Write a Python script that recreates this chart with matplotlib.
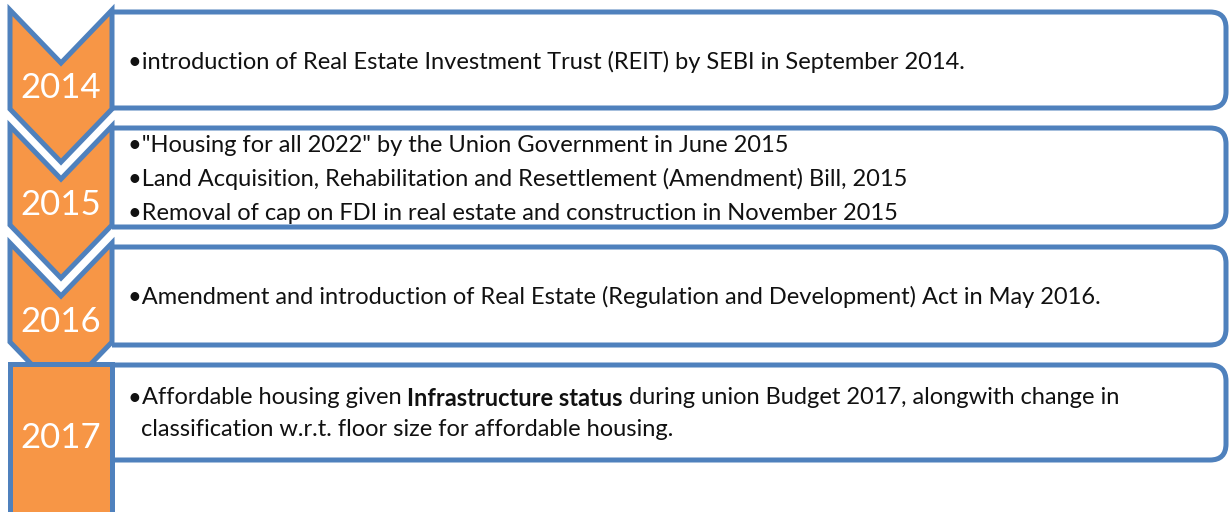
import matplotlib
matplotlib.use("Agg")
import matplotlib.pyplot as plt
from matplotlib.path import Path
from matplotlib.patches import PathPatch, Polygon

# data
years = ["2014", "2015", "2016", "2017"]
events_2014 = ["introduction of Real Estate Investment Trust (REIT) by SEBI in September 2014."]
events_2015 = ['"Housing for all 2022" by the Union Government in June 2015',
               "Land Acquisition, Rehabilitation and Resettlement (Amendment) Bill, 2015",
               "Removal of cap on FDI in real estate and construction in November 2015"]
events_2016 = ["Amendment and introduction of Real Estate (Regulation and Development) Act in May 2016."]
# 2017 line: list of (text, bold) runs, second line continues the same bullet
events_2017 = [[("Affordable housing given ", False), ("Infrastructure status", True),
                (" during union Budget 2017, alongwith change in", False)],
               [("classification w.r.t. floor size for affordable housing.", False)]]

BLUE = "#4F81BD"
ORANGE = "#F79646"
FONT = "Lato"

W, H = 1229, 512
fig = plt.figure(figsize=(W / 100, H / 100), dpi=100)
ax = fig.add_axes([0, 0, 1, 1])
ax.set_xlim(0, W)
ax.set_ylim(H, 0)
ax.axis("off")

# layout (pixels)
xl, xr = 10, 112
xc = (xl + xr) / 2
chev_top = [10, 126, 243]
body_h = 99
notch = 53
boxes = [(12, 108), (128, 227), (247, 345), (365, 460)]
box_right = 1226
rad = 16
LW = 3.6


def right_round_box(y0, y1):
    verts = [(xr, y0), (box_right - rad, y0), (box_right, y0), (box_right, y0 + rad),
             (box_right, y1 - rad), (box_right, y1), (box_right - rad, y1), (xr, y1)]
    codes = [Path.MOVETO, Path.LINETO, Path.CURVE3, Path.CURVE3,
             Path.LINETO, Path.CURVE3, Path.CURVE3, Path.LINETO]
    return PathPatch(Path(verts, codes), facecolor="white", edgecolor=BLUE,
                     lw=LW, zorder=1, joinstyle="round")


for y0, y1 in boxes:
    ax.add_patch(right_round_box(y0, y1))

# chevrons
for i, t in enumerate(chev_top):
    b = t + body_h
    pts = [(xl, t), (xc, t + notch), (xr, t), (xr, b), (xc, b + notch), (xl, b)]
    ax.add_patch(Polygon(pts, closed=True, facecolor=ORANGE, edgecolor=BLUE,
                         lw=LW, zorder=2, joinstyle="miter"))

# last block is a plain rectangle running off the bottom
ax.add_patch(Polygon([(xl, 364), (xr, 364), (xr, 530), (xl, 530)], closed=True,
                     facecolor=ORANGE, edgecolor=BLUE, lw=LW, zorder=3))

year_y = [88, 205, 322, 438]
for yr, yy in zip(years, year_y):
    ax.text(xc, yy, yr, color="white", fontsize=25, family=FONT,
            ha="center", va="center", zorder=4)

txt_kw = dict(color="#111111", fontsize=17, family=FONT, va="center", zorder=4)
tx = 128

for line, yy in zip(events_2014, [62]):
    ax.text(tx, yy, "\u2022" + line, **txt_kw)
for line, yy in zip(events_2015, [145, 179, 213]):
    ax.text(tx, yy, "\u2022" + line, **txt_kw)
for line, yy in zip(events_2016, [297]):
    ax.text(tx, yy, "\u2022" + line, **txt_kw)

renderer = fig.canvas.get_renderer()
inv = ax.transData.inverted()
bullet = ax.text(tx, 398, "\u2022", **txt_kw)
indent = inv.transform(bullet.get_window_extent(renderer).get_points())[1][0]
for k, (runs, yy) in enumerate(zip(events_2017, [398, 430])):
    x = indent if k == 0 else indent - 1
    for s, bold in runs:
        t = ax.text(x, yy, s, fontweight="bold" if bold else "normal", **txt_kw)
        bb = t.get_window_extent(renderer).get_points()
        x = inv.transform(bb)[1][0]

fig.savefig("out.png", dpi=100)
